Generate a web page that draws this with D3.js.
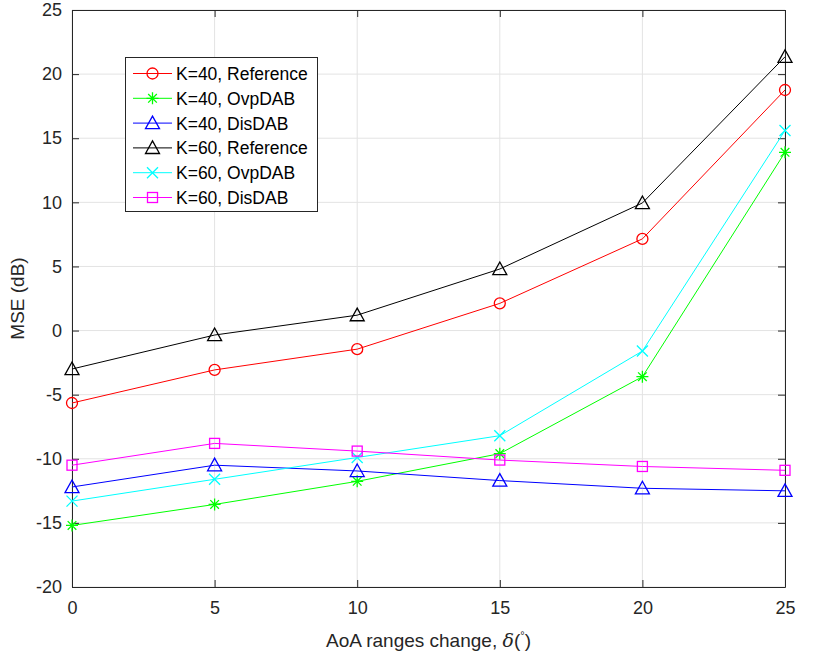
<!DOCTYPE html>
<html>
<head>
<meta charset="utf-8">
<script src="https://cdn.jsdelivr.net/npm/d3@7.9.0/dist/d3.min.js"></script>
<style>
  body { margin: 0; background: #fff; }
  svg { font-family: "Liberation Sans", Arial, sans-serif; }
</style>
</head>
<body>
<svg id="chart"></svg>
<script>
const xValues = [0, 5, 10, 15, 20, 25];
const xTicks = [0, 5, 10, 15, 20, 25];
const yTicks = [-20, -15, -10, -5, 0, 5, 10, 15, 20, 25];

const k40Reference = [-5.65, -3.07, -1.45, 2.12, 7.15, 18.76];
const k40Ovp = [-15.2, -13.56, -11.76, -9.6, -3.6, 13.9];
const k40Dis = [-12.2, -10.5, -10.95, -11.7, -12.3, -12.5];
const k60Reference = [-3.0, -0.35, 1.2, 4.8, 9.95, 21.35];
const k60Ovp = [-13.3, -11.6, -9.9, -8.2, -1.6, 15.6];
const k60Dis = [-10.5, -8.8, -9.4, -10.1, -10.6, -10.9];

const seriesNames = ['K=40, Reference', 'K=40, OvpDAB', 'K=40, DisDAB',
                     'K=60, Reference', 'K=60, OvpDAB', 'K=60, DisDAB'];
const seriesColors = ['#ff0000', '#00ff00', '#0000ff', '#000000', '#00ffff', '#ff00ff'];
const seriesMarkers = ['circle', 'star', 'triangle', 'triangle', 'cross', 'square'];
const seriesValues = [k40Reference, k40Ovp, k40Dis, k60Reference, k60Ovp, k60Dis];

const width = 830;
const height = 657;
const margin = { top: 10, right: 45, bottom: 70, left: 72 };

const svg = d3.select('#chart')
    .attr('width', width)
    .attr('height', height);

const x = d3.scaleLinear().domain([0, 25]).range([margin.left, width - margin.right]);
const y = d3.scaleLinear().domain([-20, 25]).range([height - margin.bottom, margin.top]);

const axisColor = '#262626';

// grid
svg.append('g')
    .selectAll('line')
    .data(xTicks)
    .join('line')
    .attr('x1', d => x(d)).attr('x2', d => x(d))
    .attr('y1', y(-20)).attr('y2', y(25))
    .attr('stroke', '#e3e3e3');
svg.append('g')
    .selectAll('line')
    .data(yTicks)
    .join('line')
    .attr('y1', d => y(d)).attr('y2', d => y(d))
    .attr('x1', x(0)).attr('x2', x(25))
    .attr('stroke', '#e3e3e3');

// axes (ticks pointing inward), plain hyphen minus like matlab
const fmt = d => String(d);
const xAxis = svg.append('g')
    .attr('transform', `translate(0, ${y(-20)})`)
    .call(d3.axisBottom(x).tickValues(xTicks).tickSizeInner(-7).tickSizeOuter(0).tickPadding(14).tickFormat(fmt));
const xAxisTop = svg.append('g')
    .attr('transform', `translate(0, ${y(25)})`)
    .call(d3.axisTop(x).tickValues(xTicks).tickSizeInner(-7).tickSizeOuter(0).tickFormat(''));
const yAxis = svg.append('g')
    .attr('transform', `translate(${x(0)}, 0)`)
    .call(d3.axisLeft(y).tickValues(yTicks).tickSizeInner(-7).tickSizeOuter(0).tickPadding(10).tickFormat(fmt));
const yAxisRight = svg.append('g')
    .attr('transform', `translate(${x(25)}, 0)`)
    .call(d3.axisRight(y).tickValues(yTicks).tickSizeInner(-7).tickSizeOuter(0).tickFormat(''));

[xAxis, xAxisTop, yAxis, yAxisRight].forEach(g => {
    g.select('.domain').attr('stroke', axisColor);
    g.selectAll('.tick line').attr('stroke', axisColor);
    g.selectAll('.tick text')
        .attr('fill', axisColor)
        .style('font-size', '18px')
        .style('font-family', '"Liberation Sans", Arial, sans-serif');
});

// axis labels
svg.append('text')
    .attr('x', (x(0) + x(25)) / 2)
    .attr('y', 647)
    .attr('text-anchor', 'middle')
    .attr('fill', axisColor)
    .style('font-size', '19px')
    .html('AoA ranges change, <tspan font-family="DejaVu Serif" font-style="italic">δ</tspan>(<tspan dy="-8" font-size="11">°</tspan><tspan dy="8">)</tspan>');

svg.append('text')
    .attr('transform', `translate(24, ${(y(-20) + y(25)) / 2}) rotate(-90)`)
    .attr('text-anchor', 'middle')
    .attr('fill', axisColor)
    .style('font-size', '19px')
    .text('MSE (dB)');

// marker drawing
function drawMarker(g, type, color, cx, cy) {
    if (type === 'circle') {
        g.append('circle').attr('cx', cx).attr('cy', cy).attr('r', 5.5)
            .attr('fill', 'none').attr('stroke', color).attr('stroke-width', 1.3);
    } else if (type === 'triangle') {
        const s = 7;
        g.append('path')
            .attr('d', `M${cx},${cy - s} L${cx + s},${cy + s * 0.8} L${cx - s},${cy + s * 0.8} Z`)
            .attr('fill', 'none').attr('stroke', color).attr('stroke-width', 1.3);
    } else if (type === 'square') {
        const s = 5;
        g.append('rect').attr('x', cx - s).attr('y', cy - s).attr('width', 2 * s).attr('height', 2 * s)
            .attr('fill', 'none').attr('stroke', color).attr('stroke-width', 1.3);
    } else if (type === 'cross') {
        const s = 5.5;
        g.append('path')
            .attr('d', `M${cx - s},${cy - s} L${cx + s},${cy + s} M${cx - s},${cy + s} L${cx + s},${cy - s}`)
            .attr('stroke', color).attr('stroke-width', 1.3);
    } else if (type === 'star') {
        const s = 6;
        const d = s * 0.72;
        g.append('path')
            .attr('d', `M${cx - s},${cy} L${cx + s},${cy} M${cx},${cy - s} L${cx},${cy + s}` +
                ` M${cx - d},${cy - d} L${cx + d},${cy + d} M${cx - d},${cy + d} L${cx + d},${cy - d}`)
            .attr('stroke', color).attr('stroke-width', 1.3);
    }
}

const line = d3.line()
    .x((d, i) => x(xValues[i]))
    .y(d => y(d));

seriesValues.forEach((vals, si) => {
    const g = svg.append('g');
    g.append('path')
        .datum(vals)
        .attr('d', line)
        .attr('fill', 'none')
        .attr('stroke', seriesColors[si])
        .attr('stroke-width', 1);
    vals.forEach((v, i) => drawMarker(g, seriesMarkers[si], seriesColors[si], x(xValues[i]), y(v)));
});

// legend
const legend = svg.append('g');
legend.append('rect')
    .attr('x', 125.5).attr('y', 57.5)
    .attr('width', 192).attr('height', 154)
    .attr('fill', '#fff')
    .attr('stroke', axisColor)
    .attr('stroke-width', 1);

seriesNames.forEach((name, i) => {
    const ly = 73.5 + i * 24.8;
    legend.append('line')
        .attr('x1', 133).attr('x2', 172)
        .attr('y1', ly).attr('y2', ly)
        .attr('stroke', seriesColors[i]);
    drawMarker(legend, seriesMarkers[i], seriesColors[i], 152.5, ly);
    legend.append('text')
        .attr('x', 176).attr('y', ly + 6.5)
        .attr('fill', '#000')
        .style('font-size', '17.5px')
        .text(name);
});
</script>
</body>
</html>
